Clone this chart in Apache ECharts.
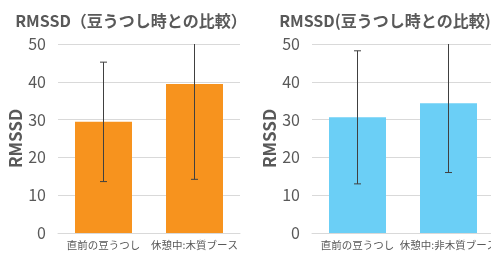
<!DOCTYPE html>
<html>
<head>
<meta charset="utf-8">
<script src="https://cdn.jsdelivr.net/npm/echarts@6/dist/echarts.min.js"></script>
<style>
html, body { margin: 0; padding: 0; background: #fff; }
#main { width: 491px; height: 255px; }
</style>
</head>
<body>
<div id="main"></div>
<script>
// 左：木質ブース / 右：非木質ブース
var titleText = 'RMSSD（豆うつし時との比較）';
var titleText2 = 'RMSSD(豆うつし時との比較)';
var catsLeft = ['直前の豆うつし', '休憩中:木質ブース'];
var catsRight = ['直前の豆うつし', '休憩中:非木質ブース'];
var meanLeft = [29.4, 39.4];
var sdLeft = [15.8, 25.2];
var meanRight = [30.6, 34.3];
var sdRight = [17.6, 18.3];
var yTicks = [0, 10, 20, 30, 40, 50];

var FONT = 'Noto Sans CJK JP';
var txtColor = '#595959';

function errData(mean, sd) {
	var out = [];
	for (var i = 0; i < mean.length; i++) {
		out.push([i, mean[i] - sd[i], mean[i] + sd[i]]);
	}
	return out;
}

// 誤差棒（上下のキャップ付き）
function renderErr(params, api) {
	var x = api.value(0);
	var top = api.coord([x, api.value(2)]);
	var bot = api.coord([x, api.value(1)]);
	var hw = 3.5;
	var st = { stroke: '#404040', lineWidth: 1 };
	return {
		type: 'group',
		children: [
			{ type: 'line', shape: { x1: top[0], y1: top[1], x2: bot[0], y2: bot[1] }, style: st },
			{ type: 'line', shape: { x1: top[0] - hw, y1: top[1], x2: top[0] + hw, y2: top[1] }, style: st },
			{ type: 'line', shape: { x1: bot[0] - hw, y1: bot[1], x2: bot[0] + hw, y2: bot[1] }, style: st }
		]
	};
}

function makeY(idx) {
	return {
		type: 'value',
		gridIndex: idx,
		min: yTicks[0],
		max: yTicks[yTicks.length - 1],
		interval: 10,
		name: 'RMSSD',
		nameLocation: 'middle',
		nameRotate: 90,
		nameGap: 34,
		nameTextStyle: { fontFamily: FONT, fontSize: 17, fontWeight: 'bold', color: txtColor },
		axisLine: { show: false },
		axisTick: { show: false },
		axisLabel: { fontFamily: FONT, fontSize: 16, color: txtColor, margin: 12 },
		splitLine: { lineStyle: { color: '#d9d9d9', width: 1 } }
	};
}

function makeX(idx, cats) {
	return {
		type: 'category',
		gridIndex: idx,
		data: cats,
		axisLine: { lineStyle: { color: '#d9d9d9' } },
		axisTick: { show: false },
		axisLabel: { fontFamily: FONT, fontSize: 10.5, color: txtColor, margin: 7, interval: 0 }
	};
}

var chart = echarts.init(document.getElementById('main'));
var option = {
	animation: false,
	title: [
		{ text: titleText, left: 126, top: 8, textAlign: 'center',
		  textStyle: { fontFamily: FONT, fontSize: 16, fontWeight: 'bold', color: txtColor } },
		{ text: titleText2, left: 380, top: 8, textAlign: 'center',
		  textStyle: { fontFamily: FONT, fontSize: 16, fontWeight: 'bold', color: txtColor } }
	],
	// 右側のグラフは画面右端で切れている
	grid: [
		{ left: 58, top: 44, width: 182, height: 189, outerBoundsMode: 'none' },
		{ left: 312, top: 44, width: 182, height: 189, outerBoundsMode: 'none' }
	],
	xAxis: [makeX(0, catsLeft), makeX(1, catsRight)],
	yAxis: [makeY(0), makeY(1)],
	series: [
		{ type: 'bar', xAxisIndex: 0, yAxisIndex: 0, data: meanLeft, barWidth: 57,
		  itemStyle: { color: '#f7931e' } },
		{ type: 'custom', xAxisIndex: 0, yAxisIndex: 0, data: errData(meanLeft, sdLeft),
		  renderItem: renderErr, clip: true, z: 3 },
		{ type: 'bar', xAxisIndex: 1, yAxisIndex: 1, data: meanRight, barWidth: 57,
		  itemStyle: { color: '#6bcff6' } },
		{ type: 'custom', xAxisIndex: 1, yAxisIndex: 1, data: errData(meanRight, sdRight),
		  renderItem: renderErr, clip: true, z: 3 }
	]
};
chart.setOption(option);
window.addEventListener('resize', chart.resize);
</script>
</body>
</html>
